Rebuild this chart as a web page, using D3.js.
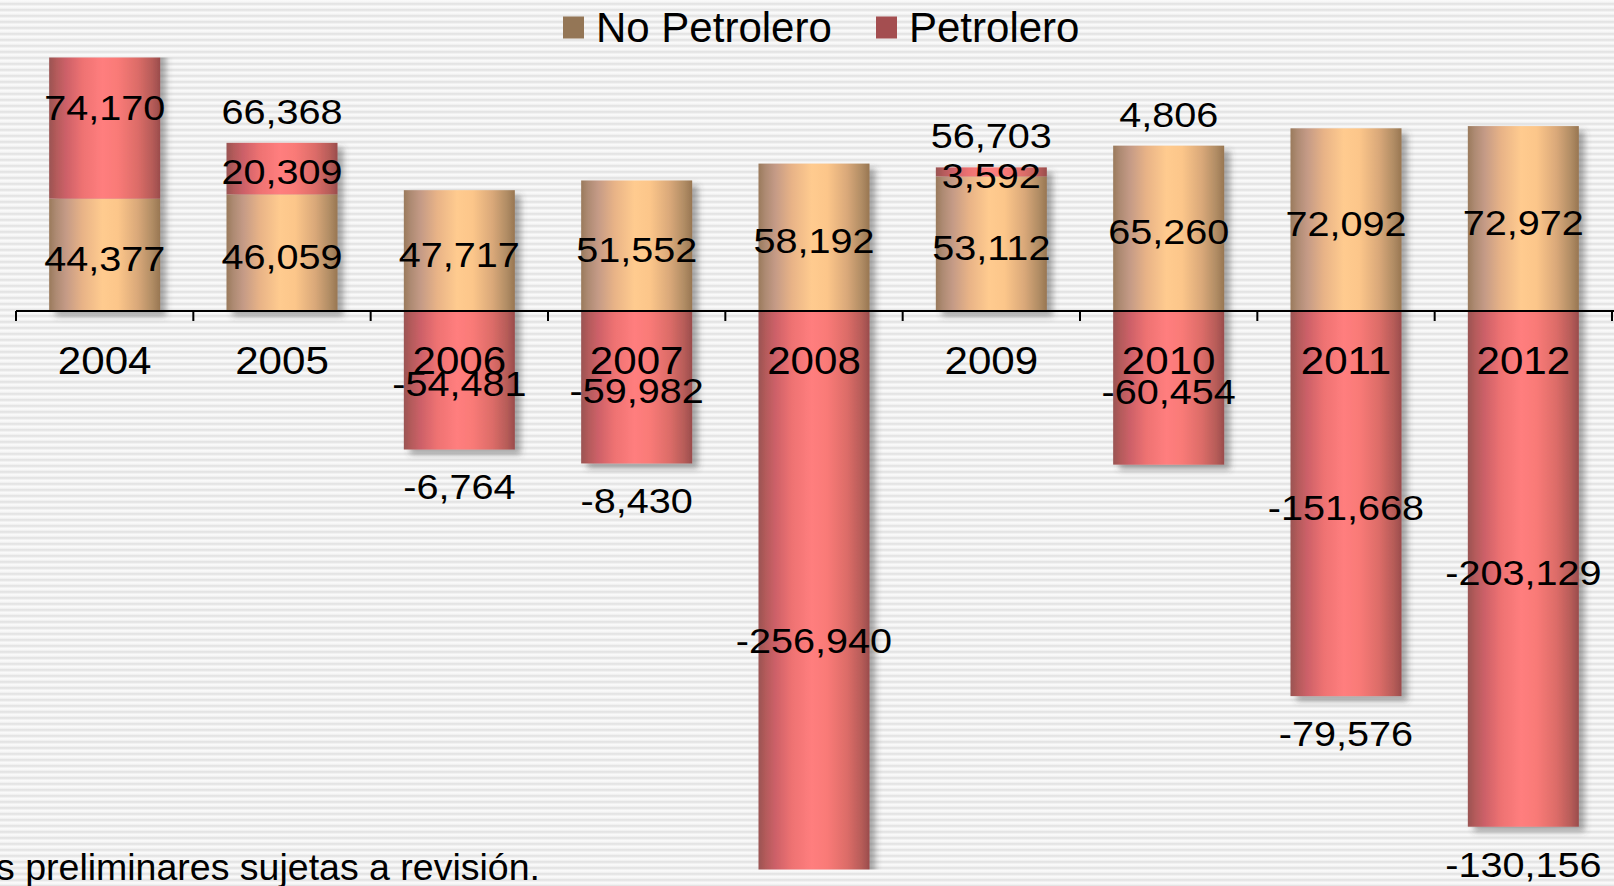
<!DOCTYPE html>
<html>
<head>
<meta charset="utf-8">
<script src="https://cdn.jsdelivr.net/npm/d3@7"></script>
<style>
  body { margin: 0; overflow: hidden; background: #fff; }
  text { font-family: "Liberation Sans", Arial, sans-serif; fill: #000; }
</style>
</head>
<body>
<svg id="chart"></svg>
<script>
// ===============================
// Dades
// ===============================
const years = ["2004", "2005", "2006", "2007", "2008", "2009", "2010", "2011", "2012"];
const noPetrolero = [44377, 46059, 47717, 51552, 58192, 53112, 65260, 72092, 72972];
const petrolero = [74170, 20309, -54481, -59982, -256940, 3592, -60454, -151668, -203129];
const totals = [118547, 66368, -6764, -8430, -198748, 56703, 4806, -79576, -130156];
const seriesNames = ["No Petrolero", "Petrolero"];
const footnote = "Cifras preliminares sujetas a revisión.";

const width = 1614;
const height = 886;
const axisY = 311;

const fmt = d3.formatLocale({
  decimal: ".", thousands: ",", grouping: [3], currency: ["$", ""], minus: "-"
}).format(",");

const svg = d3.select("#chart")
  .attr("width", width)
  .attr("height", height);

const defs = svg.append("defs");

// fons de ratlles horitzontals
const pat = defs.append("pattern")
  .attr("id", "stripes")
  .attr("patternUnits", "userSpaceOnUse")
  .attr("width", 8)
  .attr("height", 6);
const stripeGrad = defs.append("linearGradient")
  .attr("id", "stripe-grad")
  .attr("x1", 0).attr("x2", 0).attr("y1", 0).attr("y2", 1);
[[0, "#fbfbfb"], [0.35, "#f5f5f5"], [0.6, "#e3e3e3"], [0.85, "#e9e9e9"], [1, "#fbfbfb"]]
  .forEach(([o, c]) => stripeGrad.append("stop").attr("offset", o).attr("stop-color", c));
pat.append("rect").attr("width", 8).attr("height", 6).attr("fill", "url(#stripe-grad)");

svg.append("rect")
  .attr("width", width)
  .attr("height", height)
  .attr("fill", "url(#stripes)");

// gradients cilíndrics
function cylinder(id, stops) {
  const g = defs.append("linearGradient")
    .attr("id", id)
    .attr("x1", 0).attr("x2", 1).attr("y1", 0).attr("y2", 0);
  stops.forEach(([o, c]) => g.append("stop").attr("offset", o).attr("stop-color", c));
}
cylinder("grad-tan", [
  [0, "#9a7a5c"], [0.06, "#ad8a72"], [0.15, "#c49a86"], [0.3, "#e8b387"],
  [0.48, "#ffcb8f"], [0.62, "#fcc68a"], [0.8, "#d9a879"], [0.93, "#b08c64"], [1, "#987652"]
]);
cylinder("grad-red", [
  [0, "#9a5452"], [0.06, "#b25a5a"], [0.15, "#cc6068"], [0.3, "#ee7272"],
  [0.48, "#ff7e7e"], [0.62, "#f97a77"], [0.8, "#dc6c68"], [0.93, "#b65c58"], [1, "#9a4c4c"]
]);

const shadow = defs.append("filter")
  .attr("id", "shadow")
  .attr("x", "-20%").attr("y", "-20%").attr("width", "150%").attr("height", "150%");
shadow.append("feDropShadow")
  .attr("dx", 6).attr("dy", 5)
  .attr("stdDeviation", 3)
  .attr("flood-color", "#444")
  .attr("flood-opacity", 0.45);

// ===============================
// Escales
// ===============================
const x = d3.scaleBand()
  .domain(years)
  .range([16, 1612])
  .paddingInner(0.374)
  .paddingOuter(0.187);

const y = d3.scaleLinear()
  .domain([-220000, 100000])
  .range([869.5, 57.5]);

defs.append("clipPath")
  .attr("id", "plot-clip")
  .append("rect")
  .attr("x", 0)
  .attr("y", y(100000))
  .attr("width", width)
  .attr("height", y(-220000) - y(100000));

// segments apilats
const segments = [];
years.forEach((yr, i) => {
  const np = noPetrolero[i];
  const p = petrolero[i];
  segments.push({ year: yr, series: 0, v: np, y0: 0, y1: np });
  if (p >= 0) segments.push({ year: yr, series: 1, v: p, y0: np, y1: np + p });
  else segments.push({ year: yr, series: 1, v: p, y0: 0, y1: p });
});

const bars = svg.append("g").attr("clip-path", "url(#plot-clip)");
const barGroups = bars.selectAll("g.bar")
  .data(years)
  .enter()
  .append("g")
  .attr("class", "bar")
  .attr("filter", "url(#shadow)");

barGroups.selectAll("rect")
  .data(yr => segments.filter(s => s.year === yr))
  .enter()
  .append("rect")
  .attr("x", d => x(d.year))
  .attr("width", x.bandwidth())
  .attr("y", d => y(Math.max(d.y0, d.y1)))
  .attr("height", d => Math.abs(y(d.y0) - y(d.y1)))
  .attr("fill", d => d.series === 0 ? "url(#grad-tan)" : "url(#grad-red)");

// ===============================
// Eix
// ===============================
const axis = svg.append("g")
  .attr("transform", `translate(0, ${axisY})`)
  .call(d3.axisBottom(x).tickSize(0).tickSizeOuter(0).tickPadding(35));

axis.select(".domain")
  .attr("stroke", "#000")
  .attr("stroke-width", 2)
  .attr("d", `M16,0H${width}`);

axis.selectAll(".tick text")
  .style("font-size", "39px")
  .attr("fill", "#000")
  .attr("dy", "0.71em")
  .attr("y", 35)
  .attr("transform", "scale(1.08,1)");

const gap = (x.step() - x.bandwidth()) / 2;
const separators = years.map(yr => x(yr) - gap).concat([x(years[years.length - 1]) + x.bandwidth() + gap]);
axis.selectAll("line.sep")
  .data(separators)
  .enter()
  .append("line")
  .attr("class", "sep")
  .attr("x1", d => d).attr("x2", d => d)
  .attr("y1", 0).attr("y2", 10)
  .attr("stroke", "#000")
  .attr("stroke-width", 2);

// ===============================
// Etiquetes
// ===============================
const fs = 36;
const capHalf = 0.716 * fs / 2;

function label(g, cx, cy, txt) {
  g.append("text")
    .attr("transform", `translate(${cx}, ${cy + capHalf}) scale(1.1,1)`)
    .attr("text-anchor", "middle")
    .style("font-size", fs + "px")
    .text(txt);
}

const labels = svg.append("g");
segments.forEach(s => {
  const mid = y((s.y0 + s.y1) / 2) + 3;
  label(labels, x(s.year) + x.bandwidth() / 2, mid, fmt(s.v));
});

years.forEach((yr, i) => {
  const t = totals[i];
  const np = noPetrolero[i];
  const p = petrolero[i];
  const edge = t >= 0 ? np + Math.max(p, 0) : Math.min(p, 0);
  const [lo, hi] = y.domain();
  if (edge > hi || edge < lo) return;
  const cy = t >= 0 ? y(edge) - 32 : y(edge) + 37;
  label(labels, x(yr) + x.bandwidth() / 2, cy, fmt(t));
});

// ===============================
// Llegenda
// ===============================
const legendColors = ["#947656", "#a44e50"];
const legendX = [563, 876];
const legend = svg.append("g");
seriesNames.forEach((name, i) => {
  legend.append("rect")
    .attr("x", legendX[i])
    .attr("y", 16.5)
    .attr("width", 21)
    .attr("height", 22)
    .attr("fill", legendColors[i]);
  legend.append("text")
    .attr("x", legendX[i] + 33)
    .attr("y", 42)
    .style("font-size", "42px")
    .text(name);
});

// nota al peu (tallada a l'esquerra)
svg.append("text")
  .attr("x", 540)
  .attr("y", 880)
  .attr("text-anchor", "end")
  .style("font-size", "37.5px")
  .text(footnote);
</script>
</body>
</html>
